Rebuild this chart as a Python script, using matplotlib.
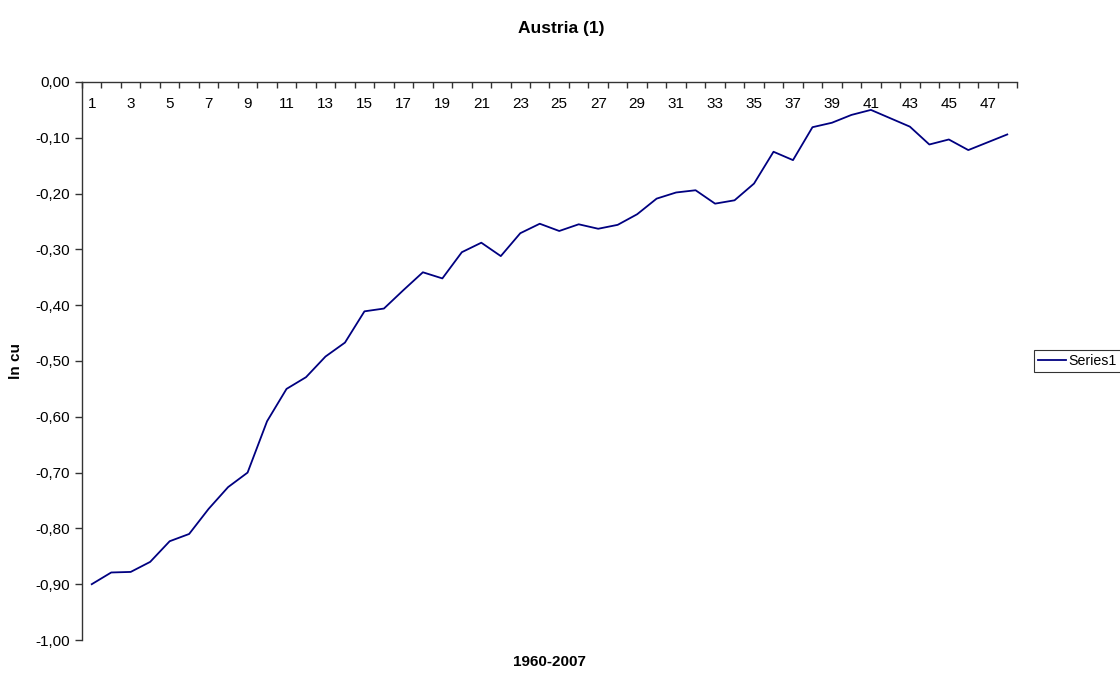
import matplotlib
matplotlib.use("Agg")
import matplotlib.pyplot as plt
from matplotlib.ticker import FixedLocator, FuncFormatter

plt.rcParams['font.family'] = ['Liberation Sans', 'DejaVu Sans']

periods = list(range(1, 49))
ln_cu = [-0.900, -0.879, -0.878, -0.860, -0.823, -0.810, -0.765, -0.726, -0.700, -0.608,
         -0.550, -0.529, -0.492, -0.467, -0.411, -0.406, -0.373, -0.341, -0.352, -0.305,
         -0.288, -0.312, -0.271, -0.254, -0.267, -0.255, -0.263, -0.256, -0.237, -0.209,
         -0.198, -0.194, -0.218, -0.212, -0.182, -0.125, -0.140, -0.081, -0.073, -0.059,
         -0.050, -0.065, -0.080, -0.112, -0.103, -0.122, -0.108, -0.094]
x_labels = [str(i) for i in range(1, 48, 2)]
title = "Austria (1)"
xlabel = "1960-2007"
ylabel = "ln cu"
series_name = "Series1"

W, H = 1120, 673
fig = plt.figure(figsize=(W / 100, H / 100), dpi=100)
L, R, T, B = 82, 1017, 82, 640
ax = fig.add_axes([L / W, 1 - B / H, (R - L) / W, (B - T) / H])

line, = ax.plot(periods, ln_cu, color='#000080', lw=1.3, label=series_name)

ax.set_xlim(0.5, 48.5)
ax.set_ylim(-1.0, 0.0)

for s in ['top', 'right']:
    ax.spines[s].set_visible(False)
ax.spines['bottom'].set_position(('data', 0))
for s in ['bottom', 'left']:
    ax.spines[s].set_color('#333333')
    ax.spines[s].set_linewidth(1.0)

# x: tick marks at category boundaries, labels every other category
ax.xaxis.set_major_locator(FixedLocator(list(range(1, 48, 2))))
ax.set_xticklabels(x_labels)
ax.xaxis.set_minor_locator(FixedLocator([i + 0.5 for i in range(0, 49)]))
ax.tick_params(axis='x', which='major', length=0, pad=11, labelsize=11, colors='black')
ax.tick_params(axis='x', which='minor', length=4, width=1.0, direction='out', color='#333333')

yt = [round(-0.1 * i, 2) for i in range(0, 11)]
ax.yaxis.set_major_locator(FixedLocator(yt))
ax.yaxis.set_major_formatter(FuncFormatter(lambda v, p: f"{v:.2f}".replace('.', ',').replace('-0,00', '0,00')))
ax.tick_params(axis='y', length=5, width=1.0, direction='out', pad=3.5, labelsize=11, color='#333333')

fig.text(561 / W, 1 - 29 / H, title, ha='center', va='center', fontsize=12.5, fontweight='bold')
fig.text(549 / W, 1 - 662 / H, xlabel, ha='center', va='center', fontsize=11, fontweight='bold')
fig.text(16 / W, 1 - 361 / H, ylabel, ha='center', va='center', rotation=90, fontsize=11, fontweight='bold')

leg = fig.legend(handles=[line], loc='center left', bbox_to_anchor=(1034 / W, 1 - 361 / H),
                 frameon=True, fancybox=False, fontsize=10.2, handlelength=2.0,
                 handletextpad=0.2, borderpad=0.25, borderaxespad=0)
leg.get_frame().set_edgecolor('black')
leg.get_frame().set_linewidth(0.8)

fig.savefig("out.png", dpi=100)
